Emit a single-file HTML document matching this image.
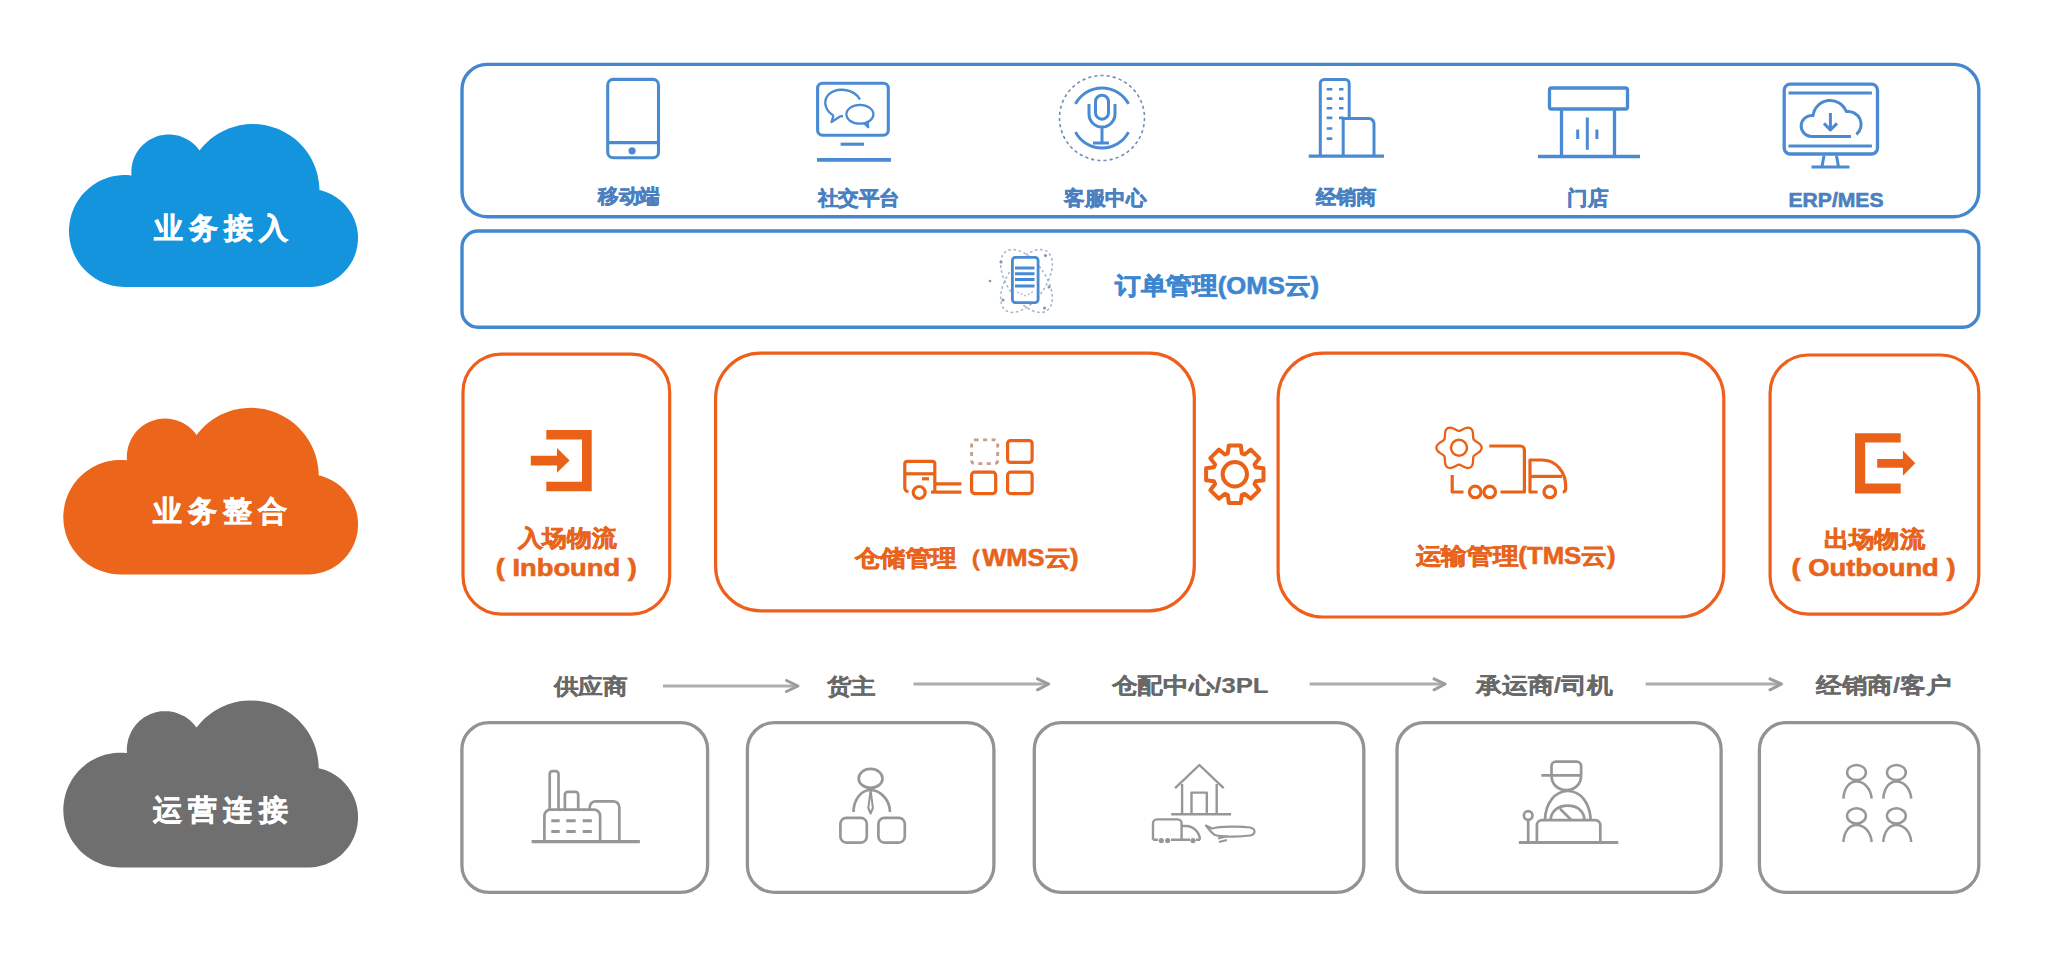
<!DOCTYPE html>
<html><head><meta charset="utf-8">
<style>
html,body{margin:0;padding:0;background:#fff;width:2049px;height:960px;overflow:hidden;}
svg{position:absolute;left:0;top:0;}
text{font-family:"Liberation Sans",sans-serif;}
</style></head>
<body>
<svg width="2049" height="960" viewBox="0 0 2049 960">


<!-- clouds -->
<path fill="#1394dd" d="M199.6 150.6 196.6 146.8 194.0 144.2 192.6 143.0 189.6 140.8 186.5 138.9 183.2 137.4 179.7 136.1 177.9 135.6 174.3 134.9 170.6 134.5 167.0 134.5 165.1 134.7 163.3 134.9 159.7 135.6 157.9 136.1 154.4 137.4 151.1 138.9 148.0 140.8 146.5 141.9 143.6 144.2 141.0 146.8 139.8 148.2 137.6 151.2 136.6 152.7 135.7 154.3 134.2 157.6 132.9 161.1 132.4 162.9 131.7 166.5 131.5 168.3 131.3 172.0 131.5 175.4 127.2 175.0 122.8 175.0 118.4 175.4 116.2 175.7 111.9 176.5 109.8 177.1 107.7 177.7 103.6 179.3 99.6 181.1 97.6 182.1 93.9 184.4 92.1 185.7 88.6 188.4 87.0 189.9 83.9 193.0 82.4 194.6 81.0 196.3 78.4 199.9 76.1 203.6 74.1 207.6 72.5 211.6 71.7 213.7 71.1 215.8 70.1 220.1 69.4 224.4 69.0 228.8 69.0 231.0 69.2 235.4 69.4 237.6 70.1 241.9 71.1 246.2 71.7 248.3 73.3 252.4 75.1 256.4 77.3 260.3 78.4 262.1 81.0 265.7 83.9 269.0 85.4 270.6 88.6 273.6 92.1 276.3 95.7 278.7 99.6 280.9 103.6 282.7 107.7 284.3 111.9 285.5 116.2 286.3 120.6 286.8 125.0 287.0 310.9 287.0 316.7 286.4 322.3 285.2 326.0 284.0 331.2 281.7 334.6 279.8 339.3 276.5 343.6 272.6 347.5 268.3 350.8 263.6 352.7 260.2 354.3 256.8 356.2 251.3 357.4 245.7 358.0 239.9 358.0 236.1 357.7 232.2 357.1 228.4 356.2 224.7 354.3 219.2 351.8 214.1 348.6 209.2 345.0 204.7 340.8 200.7 336.2 197.3 331.2 194.3 326.0 192.0 322.3 190.8 319.4 190.1 319.3 186.2 318.8 181.9 317.7 175.5 316.5 171.3 315.1 167.1 312.5 161.1 310.5 157.3 308.2 153.6 304.3 148.3 299.9 143.5 295.1 139.1 289.8 135.2 284.2 131.9 278.3 129.1 272.1 126.9 265.8 125.3 259.3 124.3 252.8 124.0 246.3 124.3 239.8 125.3 233.5 126.9 229.3 128.3 223.3 130.9 217.6 134.0 214.0 136.5 210.5 139.1 207.3 142.0 204.2 145.1 201.3 148.3 199.6 150.6Z"/>
<path fill="#eb661a" d="M194.7 432.6 192.1 429.8 190.8 428.5 187.9 426.1 186.3 425.0 183.1 423.1 179.7 421.5 176.2 420.2 174.4 419.7 170.7 419.0 168.8 418.7 165.1 418.6 161.3 418.7 157.6 419.3 155.8 419.7 154.0 420.2 150.5 421.5 148.7 422.2 145.4 424.0 142.3 426.1 139.4 428.5 136.8 431.1 135.5 432.6 134.4 434.1 132.3 437.2 131.4 438.8 129.8 442.2 128.5 445.8 128.0 447.6 127.6 449.4 127.0 453.1 126.8 456.9 127.0 460.3 122.7 460.0 118.2 460.0 113.7 460.3 111.5 460.7 109.3 461.0 104.9 462.1 102.8 462.8 98.6 464.3 94.5 466.2 92.5 467.2 90.6 468.4 86.8 470.9 85.1 472.2 81.6 475.2 78.5 478.3 77.0 480.0 74.2 483.5 72.9 485.4 70.6 489.2 68.5 493.2 66.8 497.4 66.1 499.5 65.4 501.6 64.4 506.0 63.7 510.5 63.3 514.9 63.3 517.2 63.5 521.7 64.0 526.1 64.9 530.5 65.4 532.7 66.1 534.9 67.6 539.1 69.5 543.2 71.7 547.1 72.9 549.0 75.6 552.6 78.5 556.0 81.6 559.2 83.3 560.7 86.8 563.5 90.6 566.0 94.5 568.2 98.6 570.1 102.8 571.6 107.1 572.8 111.5 573.7 115.9 574.2 120.4 574.4 310.1 574.4 315.9 573.8 321.7 572.5 325.4 571.3 330.8 569.0 334.2 567.0 339.0 563.7 343.4 559.7 347.4 555.3 350.7 550.5 352.6 547.1 354.3 543.5 356.2 537.9 357.5 532.2 358.0 526.3 358.0 522.4 357.7 518.4 357.1 514.6 356.2 510.7 354.3 505.2 351.7 499.9 348.5 494.9 344.8 490.3 340.6 486.3 335.9 482.7 330.8 479.7 325.4 477.4 321.7 476.1 318.7 475.4 318.6 471.4 318.1 467.0 316.9 460.4 315.8 456.1 314.4 451.9 311.7 445.8 308.5 440.0 304.7 434.5 300.4 429.4 297.2 426.2 293.9 423.3 288.5 419.3 282.8 415.9 276.8 413.0 270.5 410.8 264.0 409.1 257.4 408.2 250.8 407.8 244.1 408.2 239.7 408.7 233.2 410.1 226.8 412.2 220.7 414.8 216.8 416.9 213.0 419.3 207.7 423.3 204.3 426.2 201.2 429.4 198.3 432.7 196.5 435.0 194.7 432.6Z"/>
<path fill="#6f6f6f" d="M196.5 727.6 193.4 723.8 190.8 721.1 187.9 718.7 186.3 717.6 184.8 716.6 181.4 714.9 178.0 713.4 174.4 712.3 170.7 711.6 168.8 711.3 165.1 711.2 161.3 711.3 159.5 711.6 155.8 712.3 152.2 713.4 150.5 714.1 147.1 715.7 143.8 717.6 142.3 718.7 139.4 721.1 136.8 723.8 135.5 725.2 134.4 726.7 132.3 729.8 131.4 731.5 129.8 734.9 128.5 738.4 128.0 740.3 127.3 744.0 127.0 745.8 126.8 749.6 127.0 753.1 122.7 752.7 118.2 752.7 113.7 753.1 111.5 753.4 107.1 754.3 104.9 754.8 102.8 755.5 98.6 757.0 96.5 757.9 92.5 760.0 90.6 761.1 86.8 763.6 83.3 766.4 81.6 767.9 78.5 771.1 77.0 772.8 74.2 776.3 71.7 780.1 70.6 782.0 68.5 786.0 66.8 790.2 66.1 792.3 65.4 794.5 64.4 798.9 63.7 803.3 63.3 807.8 63.3 810.1 63.5 814.6 64.0 819.1 64.9 823.5 65.4 825.7 66.8 829.9 67.6 832.0 69.5 836.1 71.7 840.1 72.9 842.0 75.6 845.6 78.5 849.0 80.0 850.7 83.3 853.7 86.8 856.5 90.6 859.0 94.5 861.2 98.6 863.1 102.8 864.7 107.1 865.9 111.5 866.8 115.9 867.3 120.4 867.5 310.1 867.4 315.9 866.9 321.7 865.6 325.4 864.4 330.8 862.0 335.9 859.0 340.6 855.4 343.4 852.8 347.4 848.3 349.7 845.2 351.7 841.8 354.3 836.5 356.2 830.9 357.5 825.1 358.0 819.2 358.0 815.3 357.7 811.3 357.1 807.5 356.2 803.6 354.3 798.0 351.7 792.7 348.5 787.7 344.8 783.2 340.6 779.1 335.9 775.5 330.8 772.5 325.4 770.1 321.7 768.9 318.7 768.2 318.6 764.2 318.1 759.8 316.9 753.2 315.8 748.8 314.4 744.6 311.7 738.5 309.6 734.5 307.3 730.7 303.3 725.4 298.8 720.4 293.9 715.9 288.5 711.9 282.8 708.5 276.8 705.6 270.5 703.3 264.0 701.7 257.4 700.7 250.8 700.4 244.1 700.7 239.7 701.3 233.2 702.7 226.8 704.8 220.7 707.4 214.9 710.7 211.2 713.2 207.7 715.9 204.3 718.8 201.2 722.0 198.3 725.4 196.5 727.6Z"/>

<g fill="#fff" stroke="#fff" stroke-width="0.6" font-weight="bold" font-size="28.5" text-anchor="middle">
  <text x="220.8" y="238" textLength="134" lengthAdjust="spacing">业务接入</text>
  <text x="220" y="521" textLength="134" lengthAdjust="spacing">业务整合</text>
  <text x="220.2" y="820" textLength="135" lengthAdjust="spacing">运营连接</text>
</g>

<!-- blue boxes -->
<g fill="none" stroke="#4587cf" stroke-width="3.4">
  <rect x="462" y="64.4" width="1516.8" height="152.3" rx="25"/>
  <rect x="462" y="231" width="1516.8" height="96.2" rx="16"/>
</g>

<!-- orange boxes -->
<g fill="none" stroke="#ee5f1c" stroke-width="3.2">
  <rect x="463" y="354.1" width="206.7" height="260" rx="38"/>
  <rect x="715.6" y="353.1" width="478.7" height="257.8" rx="45"/>
  <rect x="1278.1" y="353.1" width="445.7" height="263.9" rx="45"/>
  <rect x="1770.1" y="355" width="208.7" height="259.1" rx="38"/>
</g>

<!-- gray boxes -->
<g fill="none" stroke="#939393" stroke-width="3.3">
  <rect x="461.9" y="722.6" width="245.7" height="169.8" rx="27"/>
  <rect x="747.4" y="722.6" width="246.5" height="169.8" rx="27"/>
  <rect x="1034.3" y="722.6" width="329.5" height="169.8" rx="27"/>
  <rect x="1397" y="722.6" width="324.1" height="169.8" rx="27"/>
  <rect x="1759.4" y="722.6" width="219.4" height="169.8" rx="27"/>
</g>

<!-- blue icons -->
<g fill="none" stroke="#4a8ad2" stroke-width="3.1" stroke-linecap="butt" stroke-linejoin="round">
  <!-- phone -->
  <rect x="607.7" y="79.4" width="50.8" height="78.4" rx="5.5"/>
  <path d="M607.7 142.6H658.5"/>
  <circle cx="632.1" cy="150.8" r="3.6" fill="#4a8ad2" stroke="none"/>
  <!-- social -->
  <rect x="817.6" y="83.2" width="70.7" height="52" rx="5"/>
  <path d="M840.6 144.2H864"/>
  <path d="M817 159.8H891" stroke-width="3.8"/>
  <g stroke-width="2.3">
    <path d="M833.5 115.5C826 111 824 104 826 98.5C829 91 838 89 845 90C852 91 857 94 860 99.5"/>
    <path d="M833.5 115.5L831.5 122L840 116.5C841.5 116 842.5 116 843 116"/>
    <ellipse cx="859.9" cy="114.3" rx="13.5" ry="9.4"/>
    <path d="M864.5 123.5L868.2 127.3L867.5 121.5"/>
  </g>
  <!-- mic -->
  <circle cx="1102" cy="118" r="42.5" stroke-width="1.6" stroke-dasharray="3.2 3" stroke="#6f8fb8"/>
  <path d="M1075.5 103.9A30 30 0 0 1 1128.5 103.9M1128.5 132.1A30 30 0 0 1 1075.5 132.1" stroke-width="3"/>
  <rect x="1095.5" y="95.2" width="13" height="24" rx="6.5" stroke-width="3"/>
  <path d="M1089 104V114A13 13 0 0 0 1115 114V104M1102 127V143M1093 143H1109" stroke-width="3"/>
  <!-- building -->
  <path d="M1320.3 157V83.5A4 4 0 0 1 1324.3 79.5H1345.2A4 4 0 0 1 1349.2 83.5V118" stroke-width="3"/>
  <path d="M1343.2 157V118.6H1369A5 5 0 0 1 1374 123.6V157" stroke-width="3"/>
  <path d="M1308.7 156.2H1384" stroke-width="3.2"/>
  <path d="M1326.7 89.2H1332.3M1339 89.2H1343.5M1326.7 98.6H1332.3M1339 98.6H1343.5M1326.7 108.3H1332.3M1339 108.3H1343.5M1326.7 117.9H1332.3M1339 117.9H1343.5M1326.7 128.5H1332.3M1326.7 138.6H1332.3" stroke-width="2.6"/>
  <!-- store -->
  <rect x="1549.5" y="88" width="78" height="21" rx="2" stroke-width="3.3"/>
  <path d="M1561.5 110V157M1614.5 110V157" stroke-width="3.3"/>
  <path d="M1538 156.5H1640" stroke-width="3.3"/>
  <path d="M1587.3 117.4V149.7M1577.7 129.4V139M1596.9 129.4V139" stroke-width="3"/>
  <!-- erp -->
  <rect x="1784.2" y="84.2" width="93.3" height="69.8" rx="6" stroke-width="3.3"/>
  <path d="M1788.5 92.9H1871.9M1788.5 146H1871.9" stroke-width="3"/>
  <path d="M1824 155.7L1821.9 166.7M1836.5 155.7L1838.5 166.7M1811.5 167H1849.5" stroke-width="3"/>
  <path d="M1851 136.5H1811.5A10.5 10.5 0 1 1 1813.1 115.6A17.2 17.2 0 0 1 1846.3 111.6A13 13 0 0 1 1856.4 134.5" stroke-width="3"/>
  <path d="M1830.4 113V130M1824 123.4L1830.4 130L1837 123.4" stroke-width="3"/>
</g>

<!-- OMS icon -->
<g fill="none" stroke="#a3b3c8" stroke-width="1.5" stroke-dasharray="2.6 2.6">
  <ellipse cx="1026.5" cy="281" rx="19" ry="36" transform="rotate(35 1026.5 281)"/>
  <ellipse cx="1026.5" cy="281" rx="19" ry="36" transform="rotate(-35 1026.5 281)"/>
</g>
<g fill="#7f97b8">
  <circle cx="1045.5" cy="255.5" r="1.6"/><circle cx="1001" cy="262" r="1.6"/><circle cx="1049" cy="287" r="1.5"/>
  <circle cx="1003" cy="300" r="1.6"/><circle cx="1044.5" cy="308" r="1.6"/><circle cx="990" cy="281" r="1.3"/>
</g>
<rect x="1012.4" y="257.4" width="25.7" height="45.2" rx="3" fill="#fff" stroke="#4a8ad2" stroke-width="2.8"/>
<path d="M1015 267.9H1034.5M1015 273.8H1034.5M1015 279.6H1034.5M1015 285.9H1034.5" stroke="#4a8ad2" stroke-width="3"/>
<path d="M1017 292L1026 296L1034 291" stroke="#9fb5d0" stroke-width="1.2" fill="none" stroke-dasharray="2 2"/>

<!-- orange icons -->
<g fill="#ea6218">
  <path d="M546.3 430H591.7V491.3H546.3V481.7H582V439.6H546.3Z"/>
  <path d="M530.8 455.8H557V448L569.6 460.4L557 472.8V465.4H530.8Z"/>
  <path d="M1855 433.3H1900.7V442.5H1865.2V483.5H1900.7V493.5H1855Z"/>
  <path d="M1877.2 459H1902.9V450.6L1915.3 463.2L1902.9 475.8V467.8H1877.2Z"/>
</g>
<g fill="none" stroke="#ea6218" stroke-width="3.2" stroke-linejoin="round">
  <!-- forklift -->
  <path d="M908.5 491.5A3.5 3.5 0 0 1 904.8 488V463.5A2.5 2.5 0 0 1 907.3 461.3H932.5A2.5 2.5 0 0 1 934.8 463.5V492.2H931"/>
  <path d="M904.8 473.8H934.8"/>
  <path d="M922 478.8H929"/>
  <circle cx="919.2" cy="492.5" r="6"/>
  <path d="M936 483.9H961.4M936 492.1H961.4"/>
  <rect x="1007.6" y="440.6" width="24.5" height="21.8" rx="3"/>
  <rect x="971.6" y="472.2" width="24.1" height="21.4" rx="3"/>
  <rect x="1007.6" y="472.2" width="24.5" height="21.4" rx="3"/>
  <rect x="971.6" y="439.8" width="26.1" height="23.8" rx="3" stroke="#c99a8e" stroke-dasharray="4 4.5" stroke-width="2.8"/>
  <!-- gear -->
  <path d="M1227.8 453.3L1228.8 445.5L1240.8 445.5L1241.8 453.3L1244.6 454.5L1250.8 449.7L1259.3 458.2L1254.5 464.4L1255.7 467.2L1263.5 468.2L1263.5 480.2L1255.7 481.2L1254.5 484.0L1259.3 490.2L1250.8 498.7L1244.6 493.9L1241.8 495.1L1240.8 502.9L1228.8 502.9L1227.8 495.1L1225.0 493.9L1218.8 498.7L1210.3 490.2L1215.1 484.0L1213.9 481.2L1206.1 480.2L1206.1 468.2L1213.9 467.2L1215.1 464.4L1210.3 458.2L1218.8 449.7L1225.0 454.5Z" stroke-width="4"/>
  <circle cx="1234.8" cy="474.2" r="12.2" stroke-width="4"/>
  <!-- truck -->
  <path d="M1481.7 447.8L1481.2 449.7L1479.9 451.5L1478.1 452.9L1476.2 454.1L1474.7 455.1L1473.6 456.2L1473.2 457.7L1473.1 459.6L1473.0 461.8L1472.7 464.1L1471.8 466.1L1470.3 467.5L1468.4 468.0L1466.3 467.8L1464.1 466.9L1462.2 465.9L1460.5 465.0L1459.0 464.7L1457.5 465.0L1455.8 465.9L1453.9 466.9L1451.7 467.8L1449.6 468.0L1447.7 467.5L1446.2 466.1L1445.3 464.1L1445.0 461.8L1444.9 459.6L1444.8 457.7L1444.4 456.2L1443.3 455.1L1441.8 454.1L1439.9 452.9L1438.1 451.5L1436.8 449.7L1436.3 447.8L1436.8 445.9L1438.1 444.1L1439.9 442.7L1441.8 441.5L1443.3 440.5L1444.4 439.4L1444.8 437.9L1444.9 436.0L1445.0 433.8L1445.3 431.5L1446.2 429.5L1447.7 428.1L1449.6 427.6L1451.7 427.8L1453.9 428.7L1455.8 429.7L1457.5 430.6L1459.0 430.9L1460.5 430.6L1462.2 429.7L1464.1 428.7L1466.3 427.8L1468.4 427.6L1470.3 428.1L1471.8 429.5L1472.7 431.5L1473.0 433.8L1473.1 436.0L1473.2 437.9L1473.6 439.4L1474.7 440.5L1476.2 441.5L1478.1 442.7L1479.9 444.1L1481.2 445.9Z" stroke-width="2.3"/>
  <circle cx="1459" cy="447.8" r="8" stroke-width="2.5"/>
  <path d="M1489.3 446H1520.4A4 4 0 0 1 1524.4 450V492H1500.5"/>
  <path d="M1537.6 492H1530V460H1542C1556 460 1565.7 472 1565.7 486.3V489A3 3 0 0 1 1562.7 492"/>
  <path d="M1530 476.4H1562"/>
  <path d="M1452.2 475V492H1463.5"/>
  <circle cx="1475.2" cy="491.9" r="5.8"/>
  <circle cx="1489.7" cy="491.9" r="5.8"/>
  <circle cx="1549.8" cy="491.9" r="5.8"/>
</g>

<!-- gray icons -->
<g fill="none" stroke="#979797" stroke-width="2.7" stroke-linejoin="round">
  <path d="M531.6 841.6H639.9" stroke-width="3.3"/>
  <path d="M549.7 809.7V774A2.8 2.8 0 0 1 552.5 771.2H555.7A2.8 2.8 0 0 1 558.5 774V809.7"/>
  <path d="M564.9 809.7V794.7A2.8 2.8 0 0 1 567.7 791.9H575.4A2.8 2.8 0 0 1 578.2 794.7V809.7"/>
  <path d="M544.4 841.6V815.7A6 6 0 0 1 550.4 809.7H594.1A6 6 0 0 1 600.1 815.7V841.6"/>
  <path d="M589.7 809.7V807.3A6 6 0 0 1 595.7 801.3H613.3A6 6 0 0 1 619.3 807.3V841.6"/>
  <path d="M551.3 820.8H559.7M566.3 820.8H575.7M582.7 820.8H591.8M551.3 831.5H559.7M566.3 831.5H575.7M582.7 831.5H591.8" stroke-width="3"/>
  <!-- person -->
  <ellipse cx="870.6" cy="778.4" rx="11.9" ry="9.5"/>
  <path d="M853.5 812C853.5 800 861 790 870.6 790C880.2 790 890 800 890 812"/>
  <path d="M870.6 790L868.3 808L870.6 813.5L872.9 808Z" stroke-width="2"/>
  <rect x="840.4" y="817.9" width="26.4" height="24.7" rx="6"/>
  <rect x="878.4" y="817.9" width="26.4" height="24.7" rx="6"/>
  <!-- house -->
  <g stroke-width="2.4">
    <path d="M1175.1 788.2L1199.4 765L1223.7 788.2"/>
    <path d="M1182.1 784V814.2M1216.7 784V814.2"/>
    <path d="M1171.2 814.2H1231.1"/>
    <path d="M1191.5 814.2V792.6H1206.8V814.2"/>
    <path d="M1153 839.7V823.4A4 4 0 0 1 1157 819.4H1177.6A4 4 0 0 1 1181.6 823.4V839.7M1181.6 826H1186C1194 826 1199.9 833 1199.9 839.7"/>
    <path d="M1153 839.7H1158M1171 839.7H1190M1196 839.7H1200"/>
    <path d="M1206 825.5L1212 828.5C1220 826.5 1240 826 1250 827.5C1256 828.5 1256 834.5 1250 835.5C1240 837 1222 837 1215 835C1211 833 1209 829 1206 825.5Z" stroke-width="2.2"/>
    <path d="M1218 838.5L1228 836M1219 842L1227 840" stroke-width="2"/>
  </g>
  <g fill="#959595" stroke="none">
    <circle cx="1161.3" cy="840.6" r="2.6"/><circle cx="1167.7" cy="840.6" r="2.6"/><circle cx="1193" cy="840.6" r="2.6"/>
  </g>
  <!-- driver -->
  <path d="M1518.9 842.6H1618.3" stroke-width="3"/>
  <path d="M1536.9 842.6V825.2A5 5 0 0 1 1541.9 820.2H1595.3A5 5 0 0 1 1600.3 825.2V842.6"/>
  <path d="M1544.9 820.2C1545.5 803 1555 791 1567.8 791C1580.6 791 1590 803 1590.7 820.2"/>
  <path d="M1550.6 820.2C1551 811 1558 805.6 1567.8 805.6C1577.6 805.6 1584 811 1584.5 820.2M1560 808.8L1571.5 820.2"/>
  <path d="M1551.5 775.4V766A4.3 4.3 0 0 1 1555.8 761.7H1576.8A4.3 4.3 0 0 1 1581.1 766V775.4C1581.1 784 1575 790 1566.3 790C1557.6 790 1551.5 784 1551.5 775.4Z"/>
  <path d="M1541.3 775.4H1581.1"/>
  <circle cx="1528.2" cy="815.5" r="4.3"/>
  <path d="M1528.2 819.8V842.6"/>
  <!-- people -->
  <g stroke-width="2.5">
    <ellipse cx="1856.5" cy="772.5" rx="9.4" ry="7.6"/>
    <path d="M1843.4 798.6C1844 788 1849.5 781.5 1856.5 781.5C1863.5 781.5 1871 788 1871.6 798.6"/>
    <ellipse cx="1896.4" cy="772.5" rx="9.4" ry="7.6"/>
    <path d="M1883.3 798.6C1884 788 1889.4 781.5 1896.4 781.5C1903.4 781.5 1910.6 788 1911.2 798.6"/>
    <ellipse cx="1856.5" cy="815.9" rx="9.4" ry="7.6"/>
    <path d="M1843.4 842C1844 831.4 1849.5 824.9 1856.5 824.9C1863.5 824.9 1871 831.4 1871.6 842"/>
    <ellipse cx="1896.4" cy="815.9" rx="9.4" ry="7.6"/>
    <path d="M1883.3 842C1884 831.4 1889.4 824.9 1896.4 824.9C1903.4 824.9 1910.6 831.4 1911.2 842"/>
  </g>
</g>

<!-- blue labels -->
<g fill="#4b80c0" stroke="#4b80c0" stroke-width="0.6" font-weight="bold" font-size="20" text-anchor="middle">
  <text x="629" y="203" textLength="62" lengthAdjust="spacingAndGlyphs">移动端</text>
  <text x="858.5" y="205" textLength="82" lengthAdjust="spacingAndGlyphs">社交平台</text>
  <text x="1105" y="205" textLength="82" lengthAdjust="spacingAndGlyphs">客服中心</text>
  <text x="1346" y="204" textLength="61" lengthAdjust="spacingAndGlyphs">经销商</text>
  <text x="1587.5" y="205" textLength="41" lengthAdjust="spacingAndGlyphs">门店</text>
  <text x="1836" y="207" textLength="95" lengthAdjust="spacingAndGlyphs">ERP/MES</text>
</g>
<text x="1217" y="294" fill="#3f86d0" stroke="#3f86d0" stroke-width="0.6" font-weight="bold" font-size="24" text-anchor="middle" textLength="204" lengthAdjust="spacingAndGlyphs">订单管理(OMS云)</text>

<!-- orange labels -->
<g fill="#e8641c" stroke="#e8641c" stroke-width="0.6" font-weight="bold" font-size="23" text-anchor="middle">
  <text x="567.1" y="546" textLength="99" lengthAdjust="spacingAndGlyphs">入场物流</text>
  <text x="566.3" y="576" textLength="141" lengthAdjust="spacingAndGlyphs">( Inbound )</text>
  <text x="966.6" y="566" textLength="224" lengthAdjust="spacingAndGlyphs">仓储管理（WMS云)</text>
  <text x="1515.5" y="564" textLength="200" lengthAdjust="spacingAndGlyphs">运输管理(TMS云)</text>
  <text x="1874.3" y="547" textLength="101" lengthAdjust="spacingAndGlyphs">出场物流</text>
  <text x="1873.5" y="576" textLength="164" lengthAdjust="spacingAndGlyphs">( Outbound )</text>
</g>

<!-- gray labels -->
<g fill="#686868" stroke="#686868" stroke-width="0.2" font-weight="bold" font-size="22" text-anchor="middle">
  <text x="590.8" y="694" textLength="74" lengthAdjust="spacingAndGlyphs">供应商</text>
  <text x="851.2" y="694" textLength="49" lengthAdjust="spacingAndGlyphs">货主</text>
  <text x="1190" y="693" textLength="157" lengthAdjust="spacingAndGlyphs">仓配中心/3PL</text>
  <text x="1544.5" y="693" textLength="137" lengthAdjust="spacingAndGlyphs">承运商/司机</text>
  <text x="1883.8" y="693" textLength="135" lengthAdjust="spacingAndGlyphs">经销商/客户</text>
</g>
<g fill="none" stroke="#adadad" stroke-width="3.2">
  <path d="M663 686H795M913.5 684H1046M1309.6 684H1442M1645.6 684H1778"/>
</g>
<g fill="none" stroke="#9c9c9c" stroke-width="3" stroke-linecap="round" stroke-linejoin="round">
  <path d="M786.5 680.5L798 686L786.5 691.5"/>
  <path d="M1037.5 678.8L1048.7 684L1037.5 689.8"/>
  <path d="M1434 678.8L1445.2 684L1434 689.8"/>
  <path d="M1770 678.8L1781.5 684L1770 689.8"/>
</g>

</svg>
</body></html>
